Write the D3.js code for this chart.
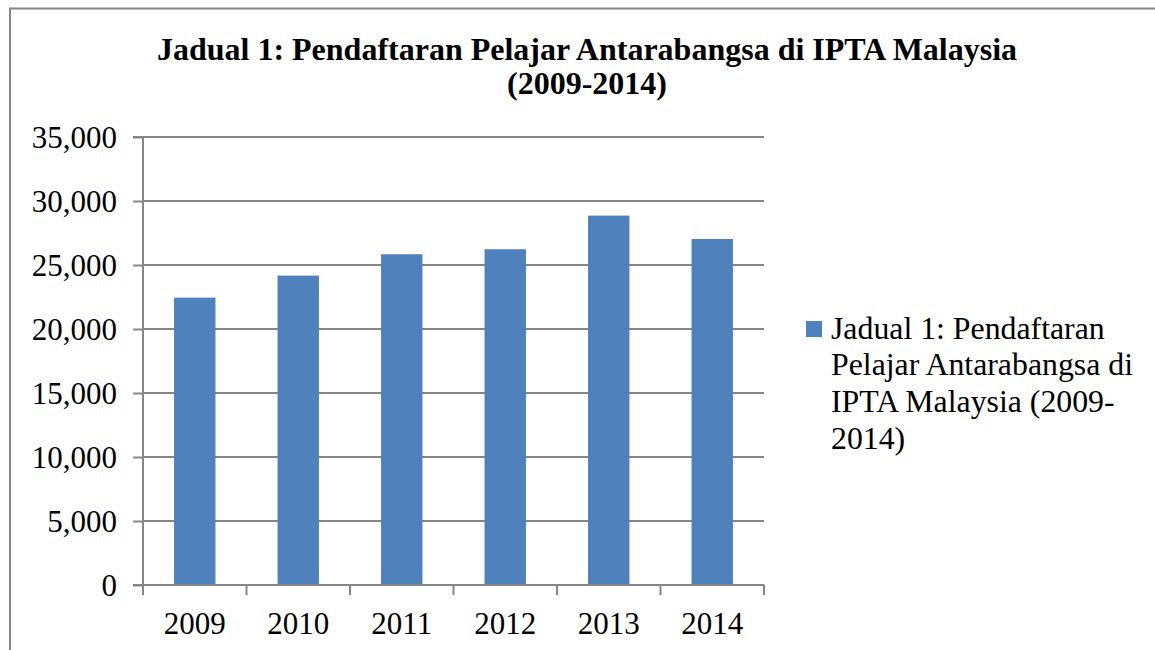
<!DOCTYPE html>
<html><head><meta charset="utf-8">
<script src="https://cdn.jsdelivr.net/npm/d3@7"></script>
<style>body{margin:0;background:#fff}svg{display:block}</style>
</head><body>
<svg id="c" width="1155" height="650"></svg>
<script>
const categories = ["2009","2010","2011","2012","2013","2014"];
const values = [22450, 24170, 25840, 26230, 28860, 27030];
const yTicks = [0,5000,10000,15000,20000,25000,30000,35000];
const titleLines = ["Jadual 1: Pendaftaran Pelajar Antarabangsa di IPTA Malaysia","(2009-2014)"];
const legendLines = ["Jadual 1: Pendaftaran","Pelajar Antarabangsa di","IPTA Malaysia (2009-","2014)"];

const svg = d3.select("#c");
const font = "'Liberation Serif','Times New Roman',serif";
const grey = "#868686";
const m = {left:143, right:764, top:137, bottom:585};

// frame
svg.append("path").attr("d","M10,650 L10,8.5 L1155,8.5").attr("fill","none").attr("stroke",grey).attr("stroke-width",2);

// title
svg.append("g").selectAll("text").data(titleLines).join("text")
  .attr("x",587).attr("y",(d,i)=>59.5+i*34).attr("text-anchor","middle")
  .attr("font-family",font).attr("font-weight","bold").attr("font-size",32).attr("fill","#000").text(d=>d);

const x = d3.scaleBand().domain(categories).range([m.left,m.right]).paddingInner(0.6).paddingOuter(0.3);
const y = d3.scaleLinear().domain([0,35000]).range([m.bottom,m.top]);

// gridlines
svg.append("g").selectAll("line").data(yTicks.filter(d=>d>0)).join("line")
  .attr("x1",m.left).attr("x2",m.right).attr("y1",d=>y(d)).attr("y2",d=>y(d))
  .attr("stroke",grey).attr("stroke-width",2);

// bars
svg.append("g").selectAll("rect").data(values).join("rect")
  .attr("x",(d,i)=>x(categories[i])).attr("width",x.bandwidth())
  .attr("y",d=>y(d)).attr("height",d=>y(0)-y(d)).attr("fill","#4f81bd");

// y axis
const yAxis = d3.axisLeft(y).tickValues(yTicks).tickSize(10).tickPadding(16).tickFormat(d3.format(","));
const gy = svg.append("g").attr("transform",`translate(${m.left},0)`).call(yAxis);
gy.select(".domain").attr("stroke",grey).attr("stroke-width",2).attr("d",`M-10,${m.top}H0V${m.bottom}`);
gy.selectAll(".tick line").attr("stroke",grey).attr("stroke-width",2);
gy.selectAll(".tick text").attr("font-family",font).attr("font-size",31).attr("fill","#000").attr("dy","0.35em");

// x axis
const xPos = d3.scaleLinear().domain([0,categories.length]).range([m.left,m.right]);
const gx = svg.append("g").attr("transform",`translate(0,${m.bottom})`);
gx.append("line").attr("x1",m.left-10).attr("x2",m.right).attr("stroke",grey).attr("stroke-width",2);
gx.selectAll("line.t").data(d3.range(categories.length+1)).join("line").attr("class","t")
  .attr("x1",d=>xPos(d)).attr("x2",d=>xPos(d)).attr("y1",0).attr("y2",10)
  .attr("stroke",grey).attr("stroke-width",2);
gx.selectAll("text").data(categories).join("text")
  .attr("x",d=>x(d)+x.bandwidth()/2).attr("y",49).attr("text-anchor","middle")
  .attr("font-family",font).attr("font-size",31).attr("fill","#000").text(d=>d);

// legend
const lg = svg.append("g");
lg.append("rect").attr("x",806).attr("y",321).attr("width",16).attr("height",16).attr("fill","#4f81bd");
lg.selectAll("text").data(legendLines).join("text")
  .attr("x",831).attr("y",(d,i)=>338.5+i*36.7)
  .attr("font-family",font).attr("font-size",31.8).attr("fill","#000").text(d=>d);
</script>
</body></html>
